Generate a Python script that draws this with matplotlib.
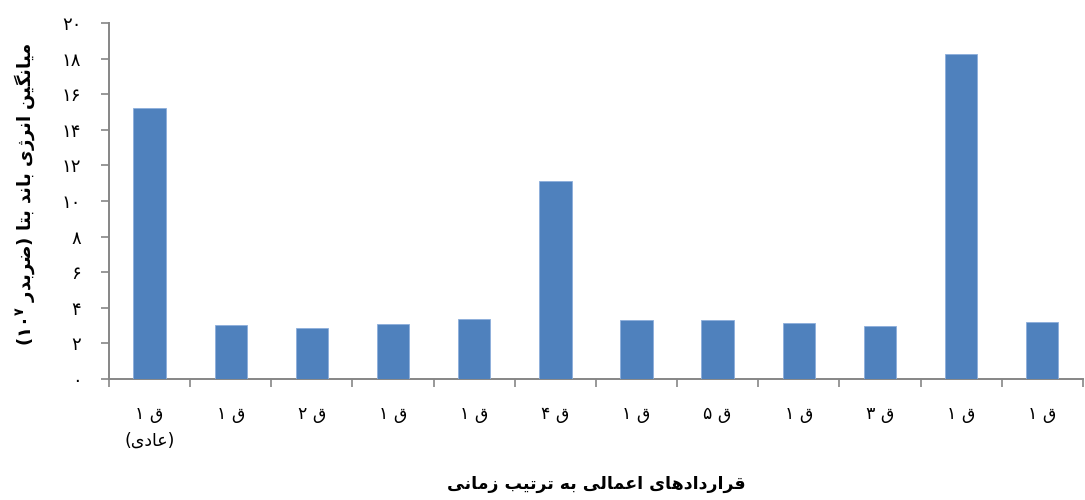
"""
نمودار میانگین انرژی باند بتا برای قراردادهای اعمالی
"""

import re
import matplotlib
matplotlib.use('Agg')
import matplotlib.pyplot as plt
import numpy as np

# داده‌ها
contracts = ['ق ۱', 'ق ۱', 'ق ۲', 'ق ۱', 'ق ۱', 'ق ۴',
             'ق ۱', 'ق ۵', 'ق ۱', 'ق ۳', 'ق ۱', 'ق ۱']
first_note = '(عادی)'
beta_energy = [15.2, 3.05, 2.85, 3.1, 3.35, 11.15,
               3.3, 3.3, 3.15, 3.0, 18.25, 3.2]
y_ticks = [0, 2, 4, 6, 8, 10, 12, 14, 16, 18, 20]
x_title = 'قراردادهای اعمالی به ترتیب زمانی'
y_title_a = 'میانگین انرژی باند بتا (ضربدر '
y_title_b = ')'

BAR_COLOR = '#4F81BD'
AXIS_COLOR = '#868686'

# اشکال حروف: (تنها، پایانی، آغازی، میانی)
FORMS = {
    'ا': ('\uFE8D', '\uFE8E', None, None),
    'ب': ('\uFE8F', '\uFE90', '\uFE91', '\uFE92'),
    'ت': ('\uFE95', '\uFE96', '\uFE97', '\uFE98'),
    'د': ('\uFEA9', '\uFEAA', None, None),
    'ر': ('\uFEAD', '\uFEAE', None, None),
    'ز': ('\uFEAF', '\uFEB0', None, None),
    'ژ': ('\uFB8A', '\uFB8B', None, None),
    'ض': ('\uFEBD', '\uFEBE', '\uFEBF', '\uFEC0'),
    'ع': ('\uFEC9', '\uFECA', '\uFECB', '\uFECC'),
    'ق': ('\uFED5', '\uFED6', '\uFED7', '\uFED8'),
    'گ': ('\uFB92', '\uFB93', '\uFB94', '\uFB95'),
    'ل': ('\uFEDD', '\uFEDE', '\uFEDF', '\uFEE0'),
    'م': ('\uFEE1', '\uFEE2', '\uFEE3', '\uFEE4'),
    'ن': ('\uFEE5', '\uFEE6', '\uFEE7', '\uFEE8'),
    'ه': ('\uFEE9', '\uFEEA', '\uFEEB', '\uFEEC'),
    'ی': ('\uFBFC', '\uFBFD', '\uFBFE', '\uFBFF'),
}
MIRROR = str.maketrans('()', ')(')


def farsi(text):
    """شکل‌دهی حروف و مرتب‌سازی راست به چپ برای matplotlib"""
    out = []
    for i, c in enumerate(text):
        if c not in FORMS:
            out.append(c)
            continue
        iso, fin, ini, med = FORMS[c]
        prev = text[i - 1] if i > 0 else ''
        nxt = text[i + 1] if i + 1 < len(text) else ''
        join_prev = prev in FORMS and FORMS[prev][2] is not None
        join_next = nxt in FORMS and ini is not None
        if join_prev and join_next:
            out.append(med)
        elif join_prev:
            out.append(fin)
        elif join_next:
            out.append(ini)
        else:
            out.append(iso)
    runs = re.findall(r'[۰-۹0-9]+|[^۰-۹0-9]+', ''.join(out))
    vis = []
    for r in reversed(runs):
        if r[0].isdigit():
            vis.append(r)
        else:
            vis.append(r[::-1].translate(MIRROR))
    return ''.join(vis)


def fa_digits(n):
    return str(n).translate(str.maketrans('0123456789', '۰۱۲۳۴۵۶۷۸۹'))


plt.rcParams['font.family'] = ['DejaVu Sans']
plt.rcParams['mathtext.fontset'] = 'dejavusans'

fig = plt.figure(figsize=(10.85, 5.0), dpi=100)
ax = fig.add_axes([0.1005, 0.242, 0.8975, 0.712])

x = np.arange(len(beta_energy))
ax.bar(x, beta_energy, width=0.4, color=BAR_COLOR,
       edgecolor='#8CAEDB', linewidth=0.6, zorder=3)

ax.set_xlim(-0.5, len(beta_energy) - 0.5)
ax.set_ylim(0, 20)

ax.set_yticks(y_ticks)
ax.set_yticklabels([fa_digits(v) for v in y_ticks], fontsize=13)

labels = [farsi(c) for c in contracts]
labels[0] = labels[0] + '\n' + farsi(first_note)
ax.set_xticks(x)
ax.set_xticklabels(labels, fontsize=12.5, linespacing=1.6, va='top')
ax.set_xticks(np.arange(len(x) + 1) - 0.5, minor=True)

ax.tick_params(axis='x', which='major', length=0, pad=19)
ax.tick_params(axis='x', which='minor', length=6, color=AXIS_COLOR, width=1.2)
ax.tick_params(axis='y', length=6, color=AXIS_COLOR, width=1.2, pad=14)

for side in ['top', 'right']:
    ax.spines[side].set_visible(False)
for side in ['left', 'bottom']:
    ax.spines[side].set_color(AXIS_COLOR)
    ax.spines[side].set_linewidth(1.4)

ax.set_xlabel(farsi(x_title), fontsize=12.5, fontweight='bold')
ax.xaxis.set_label_coords(0.5, -0.27)

# برچسب محور عمودی با توان ۷
ylab = farsi(y_title_b) + r'$\mathbf{۱۰}^{\mathbf{۷}}$' + farsi(y_title_a)
ax.set_ylabel(ylab, fontsize=13, fontweight='bold')
ax.yaxis.set_label_coords(-0.074, 0.52)

fig.savefig('out.png', dpi=100)
